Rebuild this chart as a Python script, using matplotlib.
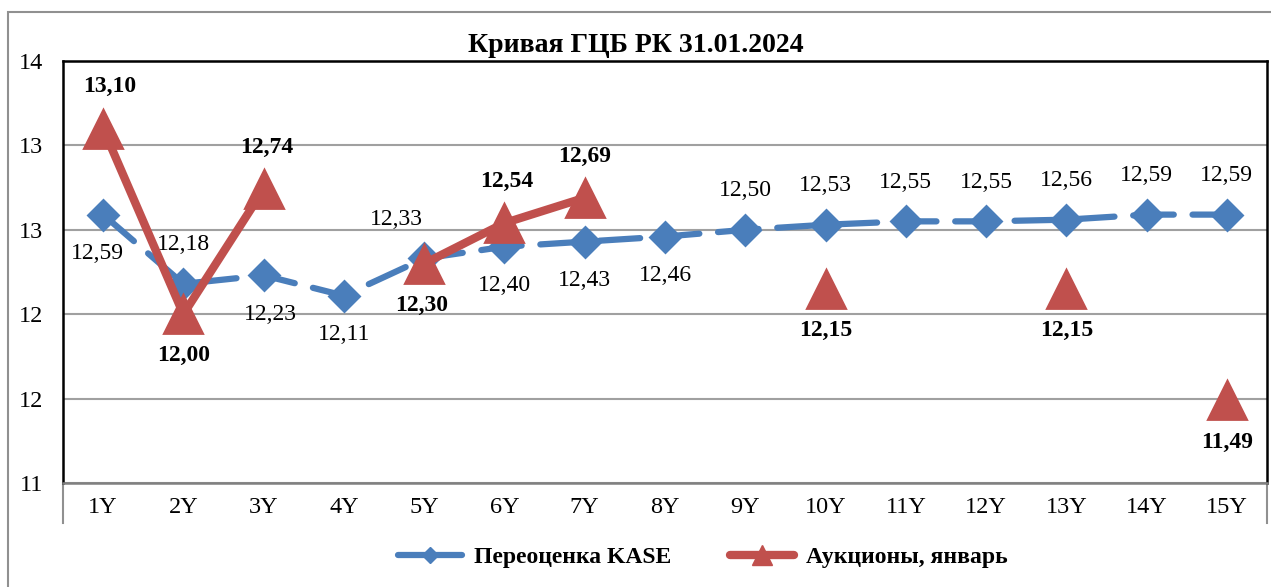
import numpy as np
import matplotlib.pyplot as plt
from matplotlib.patches import Rectangle
from matplotlib.lines import Line2D

plt.rcParams['font.family'] = ['Liberation Serif', 'DejaVu Serif']

tenors = ['1Y', '2Y', '3Y', '4Y', '5Y', '6Y', '7Y', '8Y', '9Y', '10Y',
          '11Y', '12Y', '13Y', '14Y', '15Y']
kase = [12.59, 12.18, 12.23, 12.11, 12.33, 12.40, 12.43, 12.46, 12.50,
        12.53, 12.55, 12.55, 12.56, 12.59, 12.59]
auctions = [13.10, 12.00, 12.74, np.nan, 12.30, 12.54, 12.69, np.nan, np.nan,
            12.15, np.nan, np.nan, 12.15, np.nan, 11.49]
y_ticks = [11.0, 11.5, 12.0, 12.5, 13.0, 13.5]
y_labels = ['11', '12', '12', '13', '13', '14']

# label placement: (dx in points, +1 above / -1 below)
kase_pos = [(-4, -1), (0, 1), (5, -1), (0, -1), (-20, 1), (0, -1), (0, -1), (0, -1),
            (0, 1), (0, 1), (0, 1), (0, 1), (0, 1), (0, 1), (0, 1)]
auc_pos = [(5, 1), (0, -1), (2, 1), None, (-2, -1), (2, 1), (0, 1), None, None,
           (0, -1), None, None, (0, -1), None, (0, -1)]

blue = '#4a7ebb'
red = '#c0504d'

fig = plt.figure(figsize=(12.71, 5.87), dpi=100)
ax = fig.add_axes([63 / 1271, 1 - 483 / 587, (1267 - 63) / 1271, (483 - 61) / 587])

x = np.arange(len(tenors))
ax.plot(x, kase, color=blue, lw=4.5, linestyle=(0, (6.5, 3)), dash_capstyle='round',
        marker='D', ms=15, markeredgewidth=2, mec=blue, mfc=blue, zorder=3)
ax.plot(x, auctions, color=red, lw=6, solid_capstyle='round',
        marker='^', ms=28, mec=red, mfc=red, markeredgewidth=2, zorder=4)

for i, v in enumerate(kase):
    dx, s = kase_pos[i]
    ax.annotate(f'{v:.2f}'.replace('.', ','), (i, v), xytext=(dx, 28 * s),
                textcoords='offset points', ha='center', va='center', fontsize=17)
for i, v in enumerate(auctions):
    if auc_pos[i] is None:
        continue
    dx, s = auc_pos[i]
    ax.annotate(f'{v:.2f}'.replace('.', ','), (i, v), xytext=(dx, 30 * s),
                textcoords='offset points', ha='center', va='center', fontsize=17,
                fontweight='bold')

ax.set_xlim(-0.5, len(tenors) - 0.5)
ax.set_ylim(11, 13.5)
ax.set_yticks(y_ticks)
ax.set_yticklabels(y_labels, fontsize=17.5)
ax.set_xticks(x)
ax.set_xticklabels(tenors, fontsize=17.5)
ax.tick_params(axis='x', length=0, pad=10)
ax.tick_params(axis='y', length=0, pad=14)
ax.grid(axis='y', color='#a0a0a0', lw=1.5)
ax.set_axisbelow(True)
for side in ['top', 'left', 'right']:
    ax.spines[side].set_color('black')
    ax.spines[side].set_linewidth(1.8)
ax.spines['bottom'].set_color('#808080')
ax.spines['bottom'].set_linewidth(1.8)
for xa in [0, 1]:
    ax.add_line(Line2D([xa, xa], [0, -40 / 422], transform=ax.transAxes,
                       color='#909090', lw=1.5, clip_on=False))

fig.text(0.5, 1 - 45 / 587, 'Кривая ГЦБ РК 31.01.2024', ha='center', va='center',
         fontsize=20, fontweight='bold')

handles = [Line2D([], [], color=blue, lw=4.5, solid_capstyle='round',
                  marker='D', ms=8, mec=blue, mfc=blue),
           Line2D([], [], color=red, lw=6, solid_capstyle='round',
                  marker='^', ms=14, mec=red, mfc=red)]
fig.legend(handles, ['Переоценка KASE', 'Аукционы, январь'], loc='center',
           bbox_to_anchor=(0.553, 1 - 557 / 587), ncol=2, frameon=False,
           prop={'size': 17, 'weight': 'bold'}, handlelength=2.7,
           handletextpad=0.5, columnspacing=2.5)

fig.patches.append(Rectangle((8 / 1271, -0.1), 1.2, 1.1 - 12 / 587,
                             transform=fig.transFigure, fill=False,
                             edgecolor='#909090', lw=1.5))

fig.savefig('out.png', dpi=100)
plt.close(fig)
